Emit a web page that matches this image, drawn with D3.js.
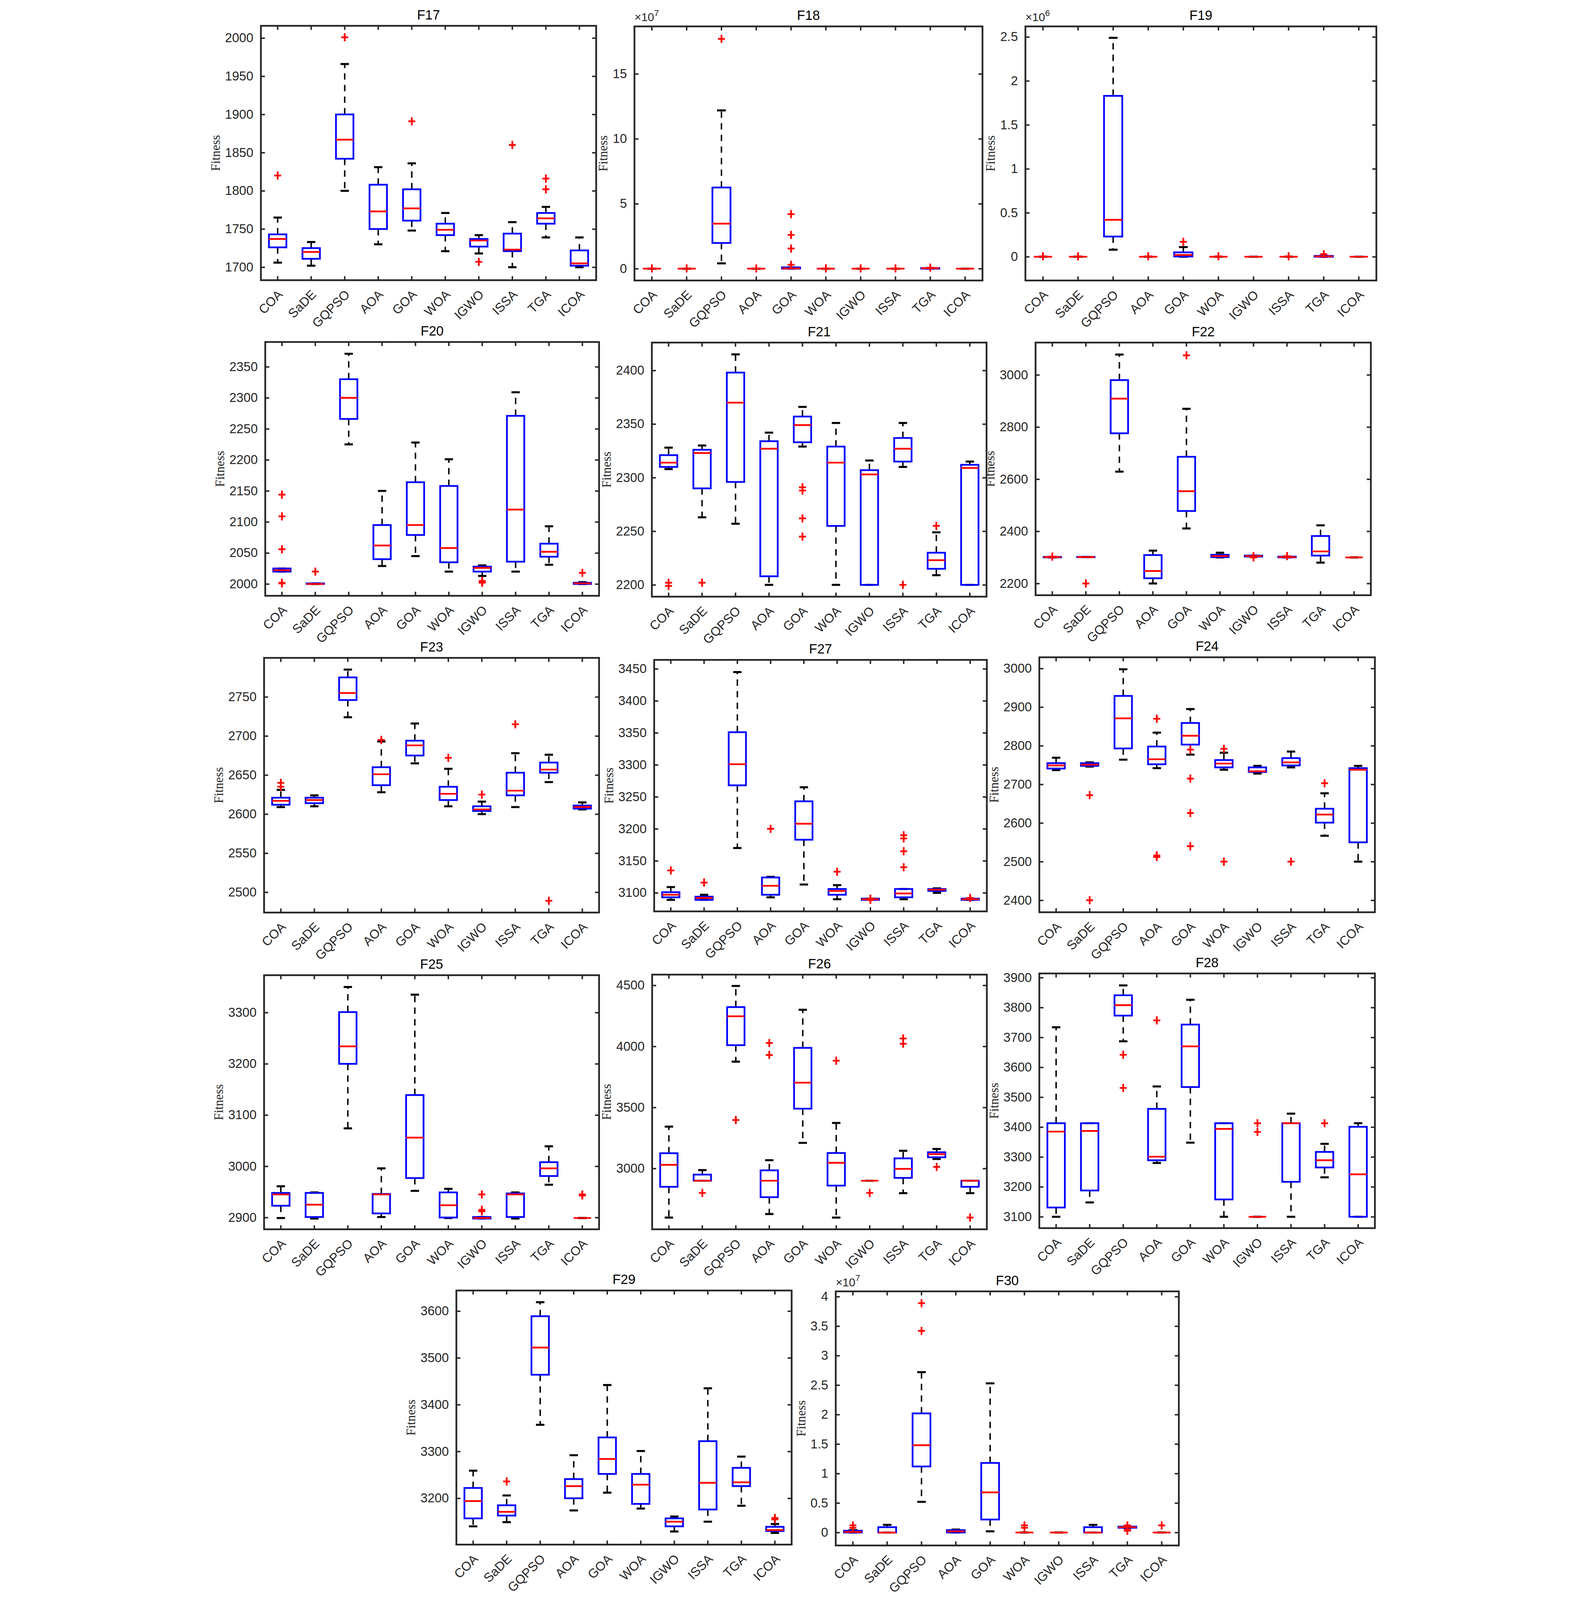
<!DOCTYPE html>
<html><head><meta charset="utf-8">
<script src="https://cdn.jsdelivr.net/npm/d3@7"></script>
<style>html,body{margin:0;padding:0;background:#fff;overflow:hidden}svg{display:block}</style></head>
<body><div id="c"></div>
<script>
const algorithms = ["COA","SaDE","GQPSO","AOA","GOA","WOA","IGWO","ISSA","TGA","ICOA"];
// each row: [lowWhisker, q1, median, q3, highWhisker, outliers]
const f17 = [[1706,1726,1737,1743,1765,[1820]],[1702,1711,1720,1725,1733,[]],[1800,1842,1867,1900,1966,[2001]],[1730,1750,1773,1808,1831,[]],[1748,1761,1777,1802,1836,[1891]],[1721,1742,1749,1757,1771,[]],[1718,1727,1735,1737,1742,[1707]],[1700,1721,1723,1744,1759,[1860]],[1739,1757,1764,1771,1779,[1802,1816]],[1700,1702,1705,1722,1739,[]]];
const f18 = [[0,0,0,0,0,[0.02]],[0,0,0,0,0,[0.02]],[0.41,1.98,3.47,6.25,12.19,[17.7]],[0,0,0,0,0,[0.02]],[0,0,0.02,0.1,0.1,[0.3,1.55,2.6,4.2]],[0,0,0,0,0,[0.02]],[0,0,0,0,0,[0.02]],[0,0,0,0,0,[0.02]],[0,0,0.03,0.05,0.05,[0.08]],[0,0,0,0,0,[]]];
const f19 = [[0,0,0,0,0,[0.005]],[0,0,0,0,0,[0.005]],[0.08,0.23,0.42,1.83,2.49,[]],[0,0,0,0,0,[0.005]],[0,0.003,0.02,0.05,0.11,[0.17]],[0,0,0,0,0,[0.005]],[0,0,0,0,0,[]],[0,0,0,0,0,[0.005]],[0,0,0.005,0.01,0.01,[0.03]],[0,0,0,0,0,[]]];
const f20 = [[2020,2020,2022,2025,2025,[2001,2002,2056,2109,2144]],[2000,2000,2000,2001,2001,[2020]],[2225,2266,2300,2330,2371,[]],[2029,2040,2062,2095,2150,[]],[2045,2079,2095,2164,2228,[]],[2020,2035,2058,2158,2201,[]],[2013,2020,2026,2028,2030,[2002,2003,2005]],[2020,2036,2120,2271,2309,[]],[2031,2044,2052,2065,2093,[]],[2000,2000,2001,2002,2003,[2018]]];
const f21 = [[2308,2310,2314,2321,2328,[2199,2202]],[2263,2290,2323,2326,2330,[2202]],[2257,2296,2370,2398,2415,[]],[2200,2208,2327,2334,2342,[]],[2329,2333,2349,2357,2366,[2245,2262,2288,2291]],[2200,2255,2314,2329,2351,[]],[2200,2200,2303,2307,2316,[]],[2310,2315,2327,2337,2351,[2200]],[2209,2215,2223,2230,2249,[2255]],[2200,2200,2309,2312,2315,[]]];
const f22 = [[2300,2300,2301,2302,2302,[2303]],[2301,2301,2301,2302,2302,[2200]],[2629,2776,2909,2980,3078,[]],[2200,2220,2248,2309,2326,[]],[2411,2478,2554,2686,2870,[3075]],[2300,2301,2305,2310,2318,[]],[2303,2303,2305,2307,2307,[2300,2305]],[2300,2300,2301,2303,2303,[2305]],[2280,2307,2323,2382,2423,[]],[2300,2300,2300,2300,2300,[]]];
const f23 = [[2609,2612,2617,2621,2631,[2635,2640]],[2610,2614,2618,2621,2624,[]],[2724,2746,2755,2775,2785,[]],[2628,2637,2651,2660,2693,[2695]],[2665,2675,2688,2694,2716,[]],[2610,2618,2626,2635,2658,[2672]],[2600,2604,2606,2610,2616,[2625]],[2609,2624,2630,2653,2678,[2715]],[2641,2653,2657,2666,2676,[2489]],[2606,2607,2609,2611,2615,[]]];
const f27 = [[3089,3093,3097,3101,3109,[3135]],[3089,3089,3092,3094,3097,[3116]],[3170,3268,3301,3351,3445,[]],[3093,3097,3111,3124,3125,[3200]],[3113,3183,3208,3243,3265,[]],[3090,3097,3103,3106,3112,[3133]],[3089,3089,3090,3091,3091,[3089,3091]],[3090,3093,3099,3106,3106,[3140,3165,3185,3190]],[3100,3103,3105,3106,3107,[]],[3089,3089,3090,3091,3091,[3092]]];
const f24 = [[2737,2741,2749,2755,2769,[]],[2746,2748,2751,2755,2757,[2672,2400]],[2764,2793,2871,2929,2998,[]],[2742,2752,2765,2798,2834,[2870,2512,2516]],[2777,2803,2826,2859,2895,[2790,2715,2626,2540]],[2738,2744,2754,2763,2782,[2792,2500]],[2728,2732,2734,2744,2748,[]],[2744,2749,2757,2768,2785,[2500]],[2567,2601,2622,2637,2677,[2703]],[2500,2550,2738,2742,2748,[]]];
const f25 = [[2899,2923,2945,2948,2961,[]],[2898,2901,2925,2948,2949,[]],[3074,3200,3234,3301,3350,[]],[2901,2908,2945,2946,2996,[]],[2952,2977,3056,3139,3335,[]],[2899,2900,2924,2949,2956,[]],[2898,2898,2899,2901,2901,[2945,2915,2912]],[2898,2901,2945,2947,2949,[]],[2964,2981,2996,3008,3039,[]],[2899,2899,2899,2899,2899,[2945,2943]]];
const f26 = [[2598,2850,3030,3125,3343,[]],[2900,2900,2900,2950,2987,[2800]],[3875,4010,4247,4322,4495,[3397]],[2627,2765,2900,2985,3068,[4028,3930]],[3210,3490,3703,3988,4300,[]],[2598,2860,3047,3127,3373,[3883]],[2900,2900,2900,2900,2900,[2800]],[2798,2923,2997,3083,3145,[4065,4022]],[3078,3092,3117,3133,3160,[3013]],[2798,2850,2900,2900,2900,[2598]]];
const f28 = [[3100,3131,3385,3413,3734,[]],[3148,3188,3387,3413,3413,[]],[3687,3773,3808,3841,3874,[3642,3531]],[3280,3289,3301,3461,3536,[3757]],[3348,3534,3670,3743,3826,[]],[3100,3158,3394,3413,3413,[]],[3100,3100,3100,3100,3100,[3413,3384]],[3100,3217,3413,3413,3445,[]],[3232,3265,3289,3317,3344,[3413]],[3100,3100,3242,3401,3413,[]]];
const f29 = [[3140,3157,3194,3222,3259,[]],[3149,3163,3171,3185,3206,[3236]],[3357,3464,3522,3589,3619,[]],[3174,3200,3226,3241,3292,[]],[3212,3252,3284,3330,3442,[]],[3178,3188,3229,3252,3301,[]],[3129,3140,3150,3157,3161,[]],[3150,3176,3233,3322,3435,[]],[3184,3226,3234,3265,3289,[]],[3126,3130,3132,3139,3145,[3155,3158]]];
const f30 = [[0,0,0.01,0.03,0.04,[0.08,0.12]],[0,0,0,0.09,0.13,[]],[0.52,1.12,1.48,2.02,2.72,[3.42,3.89]],[0,0,0.02,0.04,0.05,[]],[0.02,0.22,0.68,1.18,2.53,[]],[0,0,0,0,0,[0.08,0.12]],[0,0,0,0,0,[]],[0,0,0,0.09,0.13,[]],[0.08,0.08,0.09,0.1,0.1,[0.03,0.05,0.1,0.12]],[0,0,0,0,0,[0.12]]];

const ticks17=[1700,1750,1800,1850,1900,1950,2000], ticks18=[0,5,10,15], ticks19=[0,0.5,1,1.5,2,2.5];
const ticks20=[2000,2050,2100,2150,2200,2250,2300,2350], ticks21=[2200,2250,2300,2350,2400], ticks22=[2200,2400,2600,2800,3000];
const ticks23=[2500,2550,2600,2650,2700,2750], ticks27=[3100,3150,3200,3250,3300,3350,3400,3450], ticks24=[2400,2500,2600,2700,2800,2900,3000];
const ticks25=[2900,3000,3100,3200,3300], ticks26=[3000,3500,4000,4500], ticks28=[3100,3200,3300,3400,3500,3600,3700,3800,3900];
const ticks29=[3200,3300,3400,3500,3600], ticks30=[0,0.5,1,1.5,2,2.5,3,3.5,4];

const panels = [
 {t:"F17",d:f17,k:ticks17,dom:[1683,2016],r:[193,89,1349,966]},
 {t:"F18",d:f18,k:ticks18,dom:[-0.91,18.66],r:[1481,91,2681,967],e:"7"},
 {t:"F19",d:f19,k:ticks19,dom:[-0.27,2.62],r:[2829,91,4039,967],e:"6"},
 {t:"F20",d:f20,k:ticks20,dom:[1981,2390],r:[208,1179,1359,2054]},
 {t:"F21",d:f21,k:ticks21,dom:[2189,2426],r:[1541,1181,2695,2057]},
 {t:"F22",d:f22,k:ticks22,dom:[2155,3124],r:[2864,1181,4020,2052]},
 {t:"F23",d:f23,k:ticks23,dom:[2474,2800],r:[204,2268,1359,3146]},
 {t:"F27",d:f27,k:ticks27,dom:[3071,3464],r:[1549,2275,2696,3142]},
 {t:"F24",d:f24,k:ticks24,dom:[2369,3029],r:[2877,2266,4034,3145]},
 {t:"F25",d:f25,k:ticks25,dom:[2877,3373],r:[204,3362,1359,4238]},
 {t:"F26",d:f26,k:ticks26,dom:[2502,4588],r:[1542,3360,2696,4238]},
 {t:"F28",d:f28,k:ticks28,dom:[3062,3914],r:[2877,3356,4034,4234]},
 {t:"F29",d:f29,k:ticks29,dom:[3101,3644],r:[867,4449,2023,5325]},
 {t:"F30",d:f30,k:ticks30,dom:[-0.22,4.09],r:[2175,4452,3358,5328],e:"7"}
];

// the page is photographed in a 4076x4096 viewport: fit the 4076x5516 figure into it
const VW=window.innerWidth||4076, VH=window.innerHeight||4096;
const sc=Math.min(VW/4076, VH/5516);
const svg = d3.select("#c").append("svg").attr("width",VW).attr("height",VH);
svg.append("rect").attr("width",VW).attr("height",VH).attr("fill","#fff");
const root=svg.append("g").attr("transform",`translate(${(VW-4076*sc)/2},${(VH-5516*sc)/2}) scale(${sc})`);
const FONT="Liberation Sans, Arial, sans-serif";

panels.forEach(p=>{
  const [l,t,r,b]=p.r, W=r-l, H=b-t;
  const g=root.append("g").attr("transform",`translate(${l},${t})`);
  const x=d3.scaleBand().domain(algorithms).range([0,W]);
  const y=d3.scaleLinear().domain(p.dom).range([H,0]);
  const bw=x.bandwidth(), bx=bw*0.26, cap=bw*0.125;
  const yg=g.append("g").call(d3.axisLeft(y).tickValues(p.k).tickSize(-14).tickPadding(26).tickFormat(d=>String(d)));
  yg.select(".domain").remove();
  yg.selectAll("text").attr("font-family",FONT).attr("font-size",44).attr("fill","#262626");
  yg.selectAll("line").attr("stroke","#262626").attr("stroke-width",5);
  const yr=g.append("g").attr("transform",`translate(${W},0)`).call(d3.axisRight(y).tickValues(p.k).tickSize(-14).tickFormat(""));
  yr.select(".domain").remove(); yr.selectAll("line").attr("stroke","#262626").attr("stroke-width",5);
  const xg=g.append("g").attr("transform",`translate(0,${H})`).call(d3.axisBottom(x).tickSize(-14).tickPadding(0));
  xg.select(".domain").remove();
  xg.selectAll("line").attr("stroke","#262626").attr("stroke-width",5);
  xg.selectAll("text").attr("font-family",FONT).attr("font-size",44).attr("fill","#262626")
    .attr("text-anchor","end").attr("dy",0).attr("transform","translate(20,52) rotate(-45)");
  const xt=g.append("g").call(d3.axisTop(x).tickSize(-14).tickFormat(""));
  xt.select(".domain").remove(); xt.selectAll("line").attr("stroke","#262626").attr("stroke-width",5);
  p.d.forEach((v,i)=>{
    const cx=x(algorithms[i])+bw/2;
    const [lo,q1,md,q3,hi,outs]=v;
    const bg=g.append("g");
    if(hi>q3) bg.append("line").attr("x1",cx).attr("x2",cx).attr("y1",y(q3)).attr("y2",y(hi)).attr("stroke","#000").attr("stroke-width",5).attr("stroke-dasharray","22,18");
    if(lo<q1) bg.append("line").attr("x1",cx).attr("x2",cx).attr("y1",y(q1)).attr("y2",y(lo)).attr("stroke","#000").attr("stroke-width",5).attr("stroke-dasharray","22,18");
    [lo,hi].forEach(w=>bg.append("line").attr("x1",cx-cap).attr("x2",cx+cap).attr("y1",y(w)).attr("y2",y(w)).attr("stroke","#000").attr("stroke-width",7));
    bg.append("rect").attr("x",cx-bx).attr("width",2*bx).attr("y",y(q3)).attr("height",Math.max(0,y(q1)-y(q3)))
      .attr("fill","none").attr("stroke","#0000ff").attr("stroke-width",6);
    bg.append("line").attr("x1",cx-bx).attr("x2",cx+bx).attr("y1",y(md)).attr("y2",y(md)).attr("stroke","#ff0000").attr("stroke-width",6);
    outs.forEach(o=>{
      const oy=y(o);
      bg.append("path").attr("d",`M${cx-12},${oy}H${cx+12}M${cx},${oy-14}V${oy+14}`).attr("stroke","#ff0000").attr("stroke-width",6).attr("fill","none");
    });
  });
  g.append("rect").attr("width",W).attr("height",H).attr("fill","none").attr("stroke","#262626").attr("stroke-width",6);
  g.append("text").attr("x",W/2).attr("y",-22).attr("text-anchor","middle").attr("font-family",FONT).attr("font-size",46).attr("fill","#000").text(p.t);
  let minX=0;
  yg.selectAll("text").each(function(){ const bb=this.getBBox(); minX=Math.min(minX,bb.x); });
  g.append("text").attr("transform",`translate(${minX-18},${H/2}) rotate(-90)`).attr("text-anchor","middle")
    .attr("font-family","Liberation Serif, Times New Roman, serif").attr("font-size",44).attr("fill","#262626").text("Fitness");
  if(p.e){
    const et=g.append("text").attr("x",0).attr("y",-18).attr("font-family",FONT).attr("font-size",40).attr("fill","#262626");
    et.append("tspan").text("×10");
    et.append("tspan").attr("dy",-18).attr("font-size",30).text(p.e);
  }
});
</script></body></html>
